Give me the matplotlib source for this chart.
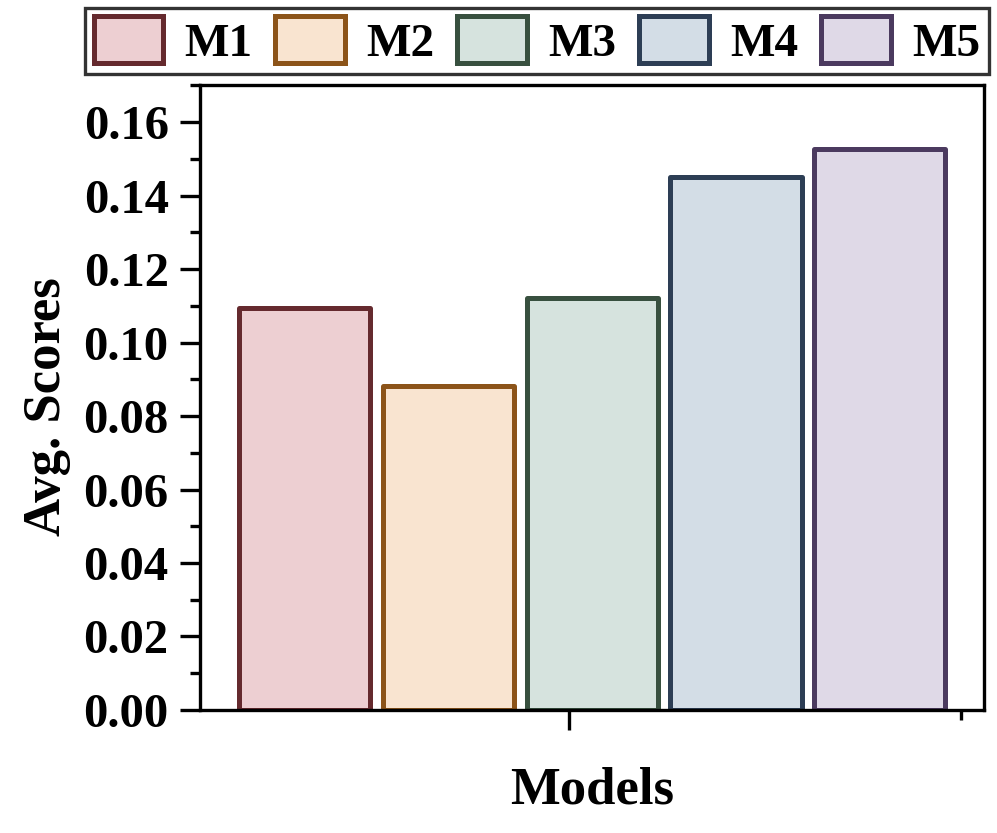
import matplotlib
matplotlib.use("Agg")
import matplotlib.pyplot as plt
from matplotlib.ticker import MultipleLocator

# data
models = ["M1", "M2", "M3", "M4", "M5"]
scores = [0.1095, 0.0881, 0.1122, 0.1451, 0.1527]
fills = ["#EDCFD2", "#F9E4D0", "#D6E3DE", "#D3DDE6", "#DFD9E7"]
edges = ["#652A2E", "#8C5419", "#38503F", "#2D3E55", "#4B3A5F"]

plt.rcParams["font.family"] = ["Liberation Serif", "DejaVu Serif"]
plt.rcParams["font.weight"] = "bold"

fig = plt.figure(figsize=(9.97, 8.33), dpi=100)
ax = fig.add_axes([0.2006, 0.1477, 0.7864, 0.7497])

x = list(range(1, len(models) + 1))
bars = ax.bar(x, scores, width=0.912, color=fills, edgecolor=edges,
              linewidth=3.6, label=models)
for b in bars:
    b.set_joinstyle("round")

ax.set_xlim(0.272, 5.725)
ax.set_ylim(0, 0.17)

ax.yaxis.set_major_locator(MultipleLocator(0.02))
ax.yaxis.set_minor_locator(MultipleLocator(0.01))
ax.yaxis.set_major_formatter(matplotlib.ticker.FormatStrFormatter("%.2f"))
ax.set_xticks([2.835])
ax.set_xticks([5.565], minor=True)
ax.set_xticklabels([])

ax.tick_params(axis="both", which="major", direction="out", length=14.5,
               width=2.4, labelsize=35, pad=8)
ax.tick_params(axis="both", which="minor", direction="out", length=7.2,
               width=2.4)
for lab in ax.get_yticklabels():
    lab.set_fontweight("bold")
for s in ax.spines.values():
    s.set_linewidth(2.4)

ax.set_ylabel("Avg. Scores", fontsize=38, fontweight="bold")
ax.yaxis.set_label_coords(-0.165, 0.485)
ax.set_xlabel("Models", fontsize=38, fontweight="bold")
ax.xaxis.set_label_coords(0.5, -0.09)

handles = [plt.Rectangle((0, 0), 1, 1, facecolor=f, edgecolor=e,
                         linewidth=3.6, joinstyle="round")
           for f, e in zip(fills, edges)]
leg = fig.legend(handles, models, loc="upper left",
                 bbox_to_anchor=(85 / 997, 1 - 8 / 833), ncol=5,
                 frameon=True, fancybox=False,
                 handlelength=1.48, handleheight=1.15, handletextpad=0.45,
                 columnspacing=0.48, borderpad=0.18, borderaxespad=0,
                 prop={"weight": "bold", "size": 34})
leg.get_frame().set_edgecolor("black")
leg.get_frame().set_linewidth(2.4)

fig.savefig("out.png", dpi=100)
